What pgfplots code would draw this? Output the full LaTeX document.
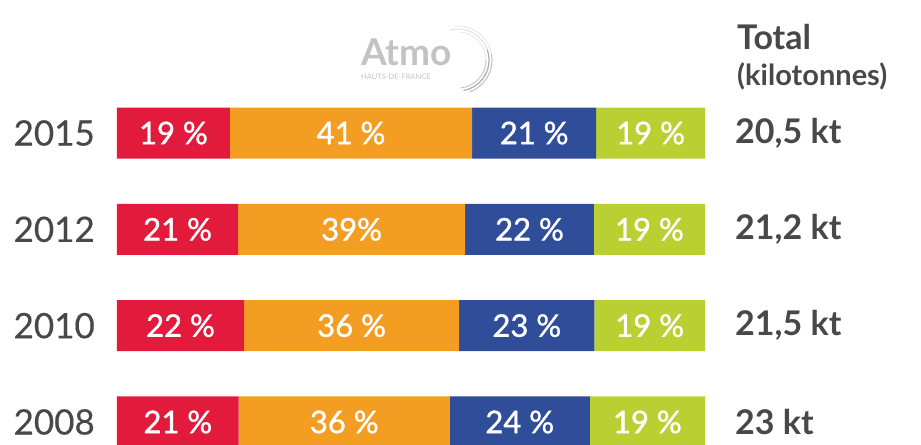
\documentclass[border=0pt]{standalone}
\usepackage{pgfplots}
\pgfplotsset{compat=1.18}
\usepackage{pgfplotstable}
\usepackage{fontspec}
\setmainfont{Lato}
\newfontfamily\labfont[FakeBold=1.2]{Lato}
\newfontfamily\yearfont[FakeBold=0.4]{Lato}
\definecolor{cred}{RGB}{226,27,60}
\definecolor{corange}{RGB}{243,158,34}
\definecolor{cblue}{RGB}{48,77,154}
\definecolor{cgreen}{RGB}{185,208,50}
\definecolor{cgray}{RGB}{72,72,72}
\definecolor{clogo}{RGB}{195,195,195}

\pgfplotstableread[col sep=comma]{
y,r,o,b,g,lr,lo,lb,lg
0,20.7,35.9,23.8,19.6,21 \%,36 \%,24 \%,19 \%
1,21.6,36.6,23.0,18.8,22 \%,36 \%,23 \%,19 \%
2,20.6,38.6,21.9,18.9,21 \%,39\%,22 \%,19 \%
3,19.2,41.2,21.1,18.5,19 \%,41 \%,21 \%,19 \%
}\data

\begin{document}
\begin{tikzpicture}
\begin{axis}[
  xbar stacked,
  scale only axis, width=588bp, height=445bp,
  xmin=0, xmax=100, ymin=-0.239, ymax=4.381,
  bar width=51bp,
  axis line style={draw=none}, tick style={draw=none}, major tick length=0pt,
  xtick=\empty,
  ytick={0,1,2,3}, yticklabels={2008,2010,2012,2015},
  yticklabel style={font=\yearfont\fontsize{35bp}{40bp}\selectfont, text=cgray, anchor=east, inner sep=0pt, xshift=-22bp},
  clip=false,
  point meta=explicit symbolic,
  nodes near coords={\pgfplotspointmeta},
  every node near coord/.append style={anchor=center, text=white, font=\labfont\fontsize{31bp}{34bp}\selectfont},
]
\addplot[fill=cred, draw=none] table[x=r, y=y, meta=lr]{\data};
\addplot[fill=corange, draw=none] table[x=o, y=y, meta=lo]{\data};
\addplot[fill=cblue, draw=none] table[x=b, y=y, meta=lb]{\data};
\addplot[fill=cgreen, draw=none] table[x=g, y=y, meta=lg]{\data};
\coordinate (SW) at (rel axis cs:0,0);
\coordinate (NE) at (rel axis cs:1,1);
\node[anchor=base west, inner sep=0pt, text=cgray, font=\bfseries\fontsize{34bp}{38bp}\selectfont] at ([xshift=32bp]axis cs:100,3.862) {Total};
\node[anchor=base west, inner sep=0pt, text=cgray, font=\bfseries\fontsize{29bp}{32bp}\selectfont] at ([xshift=32bp]axis cs:100,3.498) {(kilotonnes)};
\node[anchor=base west, inner sep=0pt, text=clogo, font=\bfseries\fontsize{37bp}{40bp}\selectfont] at (axis cs:41.5,3.706) {Atmo};
\node[anchor=base west, inner sep=0pt, text=clogo, font=\fontsize{7.5bp}{8bp}\selectfont] at (axis cs:41.5,3.552) {HAUTS-DE-FRANCE};
\draw[black!12, line width=1bp] (axis cs:58.0,3.758) ++(105:31bp) arc[start angle=105, end angle=20, radius=31bp];
\draw[black!30, line width=1.3bp] (axis cs:58.0,3.758) ++(20:31bp) arc[start angle=20, end angle=-80, radius=31bp];
\draw[black!10, line width=0.8bp] (axis cs:58.0,3.758) ++(95:34bp) arc[start angle=95, end angle=10, radius=34bp];
\draw[black!25, line width=1bp] (axis cs:58.0,3.758) ++(10:34bp) arc[start angle=10, end angle=-70, radius=34bp];
\draw[black!10, line width=0.8bp] (axis cs:58.0,3.758) ++(85:28bp) arc[start angle=85, end angle=0, radius=28bp];
\draw[black!22, line width=1bp] (axis cs:58.0,3.758) ++(0:28bp) arc[start angle=0, end angle=-85, radius=28bp];
\end{axis}
\begin{axis}[
  scale only axis, width=588bp, height=445bp,
  xmin=0, xmax=100, ymin=-0.239, ymax=4.381,
  axis line style={draw=none}, tick style={draw=none}, major tick length=0pt,
  xtick=\empty,
  yticklabel pos=right,
  ytick={0,1,2,3}, yticklabels={{23 kt},{21,5 kt},{21,2 kt},{20,5 kt}},
  yticklabel style={font=\bfseries\fontsize{34bp}{38bp}\selectfont, text=cgray, anchor=west, inner sep=0pt, xshift=30bp},
]
\end{axis}
\pgfresetboundingbox
\path ([xshift=-117bp]SW) rectangle ([xshift=216bp]NE);
\end{tikzpicture}
\end{document}
